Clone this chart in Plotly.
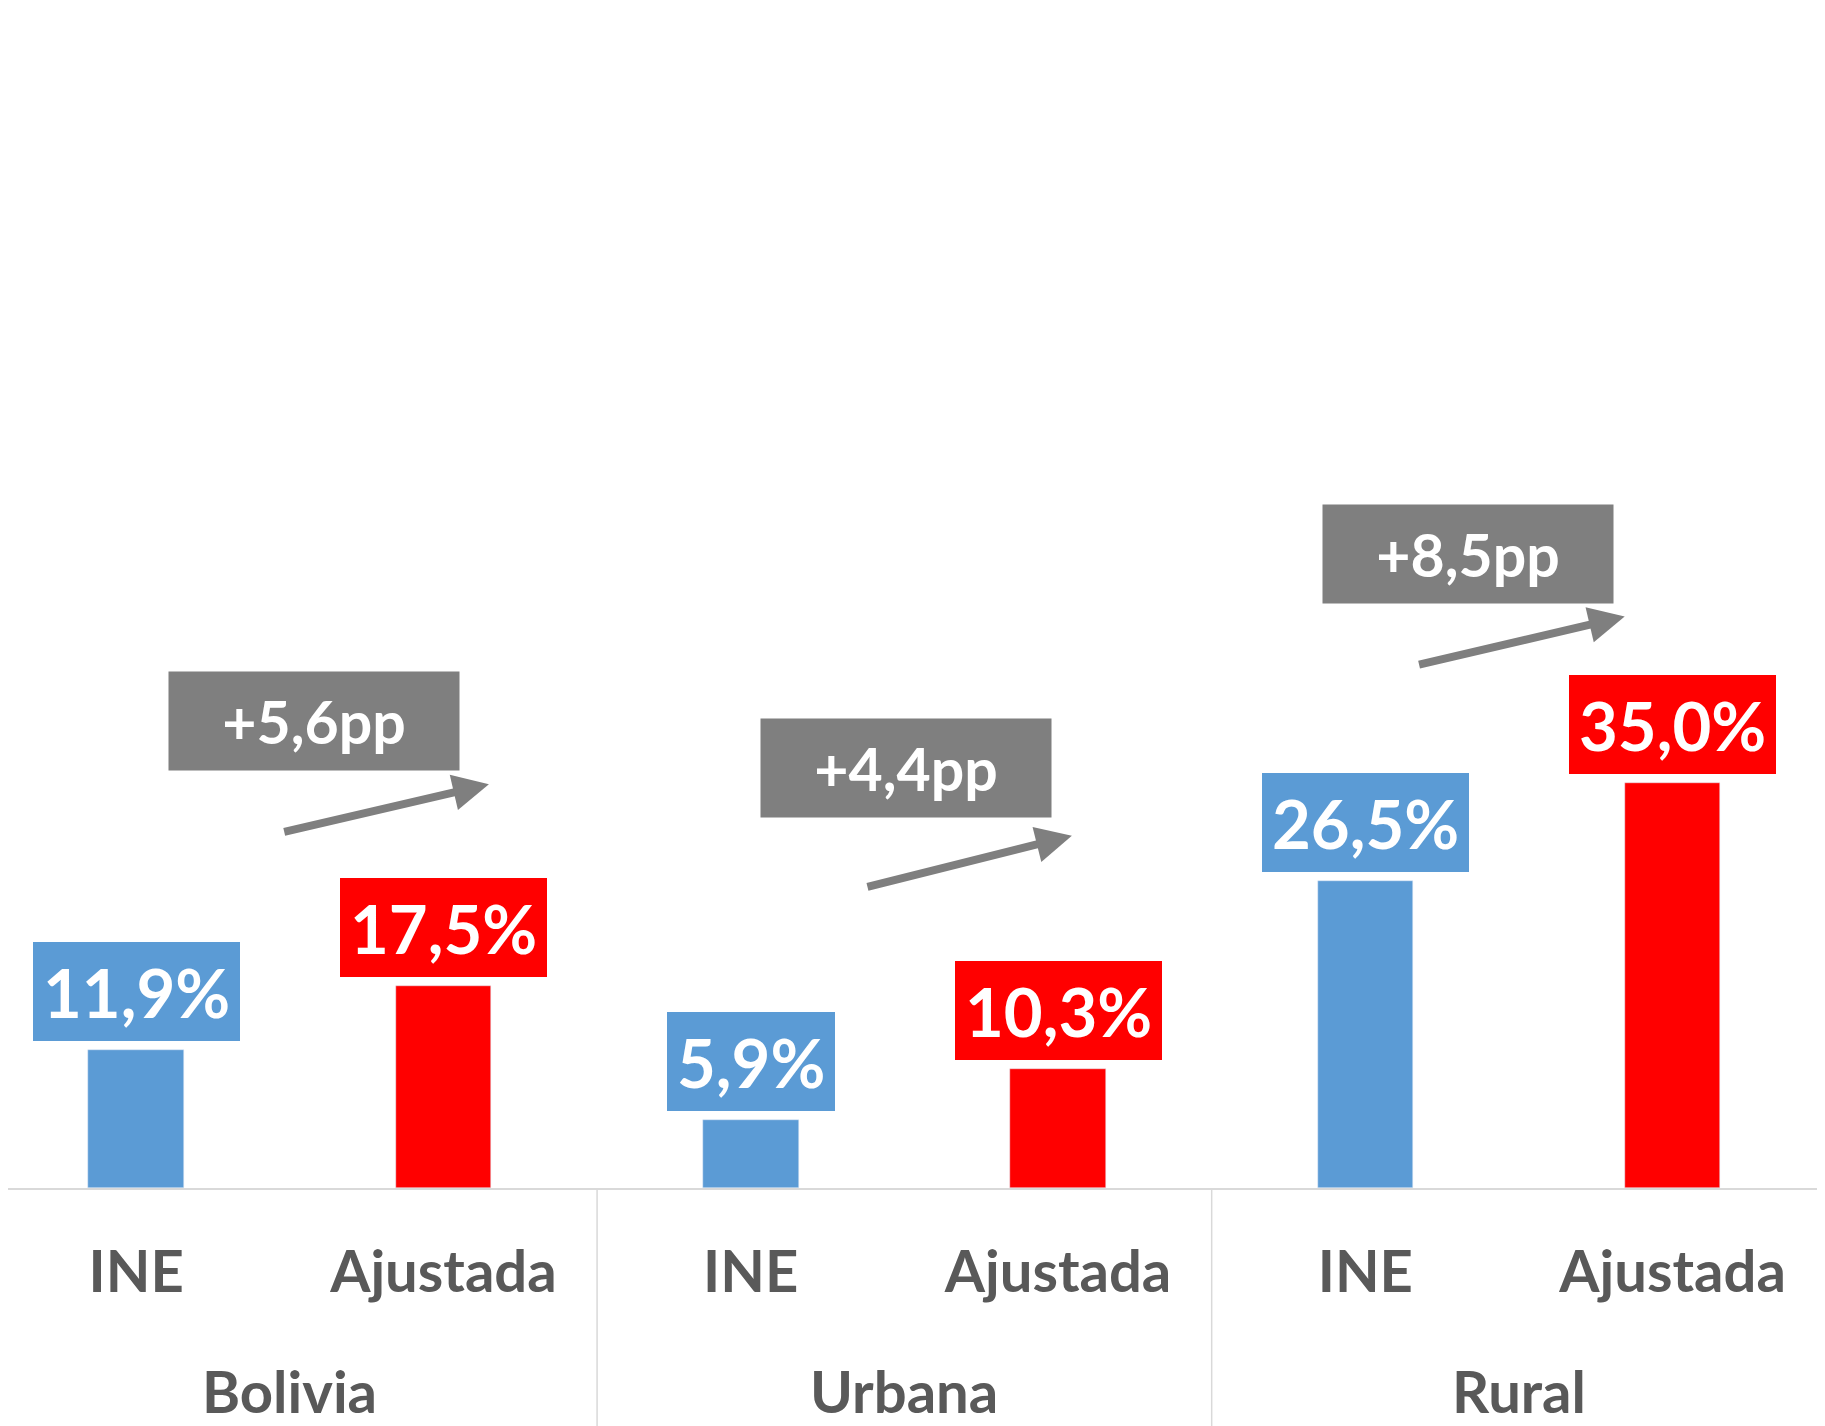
import plotly.graph_objects as go

# ---- data ----
groups = ["Bolivia", "Urbana", "Rural"]
series_names = ["INE", "Ajustada"]
ine_values = [11.9, 5.9, 26.5]
ajustada_values = [17.5, 10.3, 35.0]

def fmt(v):
    return f"{v:.1f}".replace(".", ",")

# ---- layout constants ----
# page body has an 8px default margin; compensate so the chart fills the window
OFF = 8
W, H = 1825 - OFF, 1426 - OFF
AXIS_Y = 1188 - OFF          # axis line position inside the div
TOP = 31 - OFF
SLOT = 307.3                 # px per category
X0 = -0.443 + OFF / SLOT     # data x at div left edge
BLUE = "#5b9bd5"
RED = "#ff0000"
GREY = "#7f7f7f"
TXT = "#595959"
AX = "#d9d9d9"
FONT = "Lato"

x_ine = [2 * i for i in range(len(groups))]
x_aju = [2 * i + 1 for i in range(len(groups))]

fig = go.Figure()
fig.add_trace(go.Bar(x=x_ine, y=ine_values, marker_color=BLUE, width=0.311,
                     name=series_names[0], hoverinfo="y"))
fig.add_trace(go.Bar(x=x_aju, y=ajustada_values, marker_color=RED, width=0.311,
                     name=series_names[1], hoverinfo="y"))

annotations = []
# value labels
for xs, vals, col in [(x_ine, ine_values, BLUE), (x_aju, ajustada_values, RED)]:
    for x, v in zip(xs, vals):
        annotations.append(dict(
            x=x, y=v, xref="x", yref="y", text=f"<b>{fmt(v)}%</b>",
            showarrow=False, yanchor="bottom", yshift=9,
            bgcolor=col, borderpad=10, borderwidth=0, height=79,
            font=dict(family=FONT, size=67, color="white", weight="bold"),
        ))

# gap boxes and arrows (decorative placement offsets, per group)
box_offsets = [(0.578, 40.4), (0.504, 36.3), (0.333, 54.8)]
arrow_tail = [(0.477, 30.75), (0.375, 26.0), (0.170, 45.2)]
arrow_tip = [(1.148, 34.9), (1.045, 30.45), (0.844, 49.4)]
for i, (a, b) in enumerate(zip(ine_values, ajustada_values)):
    base = 2 * i
    bx, by = box_offsets[i]
    annotations.append(dict(
        x=base + bx, y=by, xref="x", yref="y", text=f"<b>+{fmt(b - a)}pp</b>",
        showarrow=False, xanchor="center", yanchor="middle",
        bgcolor=GREY, borderpad=0, width=290, height=98,
        font=dict(family=FONT, size=59, color="white", weight="bold"),
    ))
    tx, ty = arrow_tail[i]
    hx, hy = arrow_tip[i]
    annotations.append(dict(
        x=base + hx, y=hy, ax=base + tx, ay=ty, xref="x", yref="y",
        axref="x", ayref="y", text="", showarrow=True, arrowhead=2,
        arrowsize=0.9, arrowwidth=8, arrowcolor=GREY, standoff=0,
        startstandoff=0,
    ))

# group labels (box bottom at the figure bottom)
plot_h = AXIS_Y - TOP
for i, g in enumerate(groups):
    annotations.append(dict(
        x=2 * i + 0.5, y=-(H - AXIS_Y) / plot_h, xref="x", yref="paper",
        text=f"<b>{g}</b>", showarrow=False, yanchor="bottom", borderpad=0,
        font=dict(family=FONT, size=58, color=TXT, weight="bold"),
    ))

shapes = []
for i in range(1, len(groups)):
    shapes.append(dict(type="line", xref="x", yref="paper",
                       x0=2 * i - 0.5, x1=2 * i - 0.5, y0=0, y1=-0.3,
                       line=dict(color=AX, width=1.5)))

fig.update_layout(
    width=W, height=H,
    margin=dict(l=0, r=0, t=TOP, b=H - AXIS_Y),
    plot_bgcolor="white", paper_bgcolor="white",
    showlegend=False,
    bargap=0,
    annotations=annotations,
    shapes=shapes,
    xaxis=dict(
        range=[X0, X0 + W / SLOT], tickvals=x_ine + x_aju,
        ticktext=[series_names[0]] * len(groups) + [series_names[1]] * len(groups),
        showgrid=False, zeroline=False, showline=True, linecolor=AX, linewidth=1.5,
        ticks="", ticklabelstandoff=33,
        tickfont=dict(family=FONT, size=58, color=TXT, weight="bold"),
    ),
    yaxis=dict(range=[0, 100], visible=False, showgrid=False, zeroline=False),
)

fig.write_html("out.html")
